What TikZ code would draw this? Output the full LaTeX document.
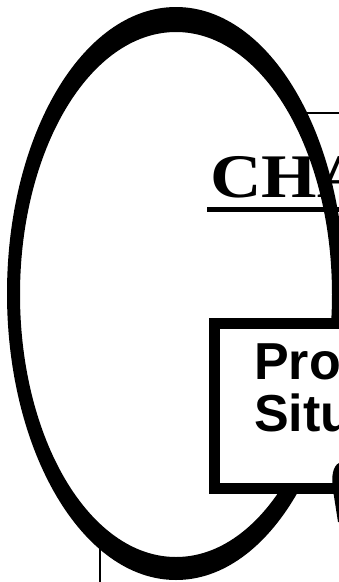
\documentclass[tikz,border=0pt]{standalone}
\usepackage{fontspec}
\setmainfont{Liberation Serif}
\setsansfont{Liberation Sans}
\usepackage{tikz}
\usetikzlibrary{positioning}

\begin{document}
\begin{tikzpicture}[
  x=1pt, y=-1pt,
  ring/.style={fill=black, even odd rule},
  headtext/.style={font=\fontsize{62}{66}\selectfont\rmfamily\bfseries,
    inner sep=0pt, anchor=base west},
  probbox/.style={rectangle, draw=black, line width=11pt, fill=white,
    minimum width=200pt, minimum height=165pt, anchor=north west, inner sep=0pt},
  boxtext/.style={font=\fontsize{52}{52}\selectfont\sffamily\bfseries,
    align=left, inner sep=0pt, anchor=base west},
  thin/.style={line width=2pt}
]
\useasboundingbox (0,0) rectangle (339,582);
\clip (0,0) rectangle (339,582);

%% ── HEADING ──────────────────────────────────────────────
\node[headtext] (chap) at (210,197) {\scalebox{1.15}[1]{CHA}};
\draw[line width=5pt] (207,209.5) coordinate (ulstart) -- (339,209.5) coordinate (ulend);
\draw[thin] (307,113) coordinate (rulestart) -- (339,113) coordinate (ruleend);

%% ── RING ─────────────────────────────────────────────────
\fill[ring] (176,293.5) ellipse [x radius=169pt, y radius=286.5pt]
            (176,294.5) ellipse [x radius=156pt, y radius=262.5pt];

%% ── BOX ──────────────────────────────────────────────────
\node[probbox] (sitbox) at (209,317.5) {};
\node[boxtext] (sittext) at (254,431) {Pro\\Situ};

%% right-hand piece
\fill (339,463) .. controls (333,466) and (331,476) .. (333,490)
      -- (338,522) -- (339,522) -- cycle;

%% foot line
\draw[thin] (100,545) coordinate (footstart) -- (100,582) coordinate (footend);

\end{tikzpicture}
\end{document}
